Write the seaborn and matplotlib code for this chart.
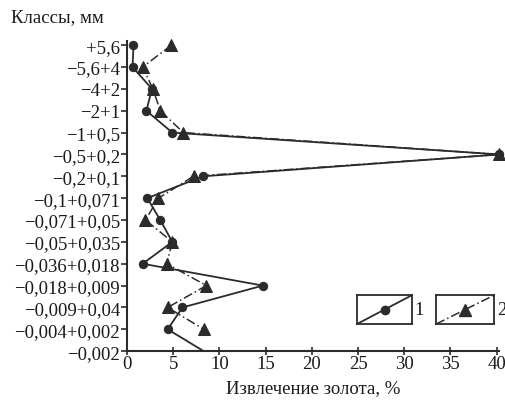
import matplotlib
matplotlib.use("Agg")
import matplotlib.pyplot as plt
import seaborn as sns
import numpy as np

# classes (top to bottom) and gold recovery values, %
classes = ["+5,6", "−5,6+4", "−4+2", "−2+1", "−1+0,5", "−0,5+0,2", "−0,2+0,1",
           "−0,1+0,071", "−0,071+0,05", "−0,05+0,035", "−0,036+0,018",
           "−0,018+0,009", "−0,009+0,04", "−0,004+0,002", "−0,002"]
series1 = [0.7, 0.6, 2.7, 2.1, 4.9, 40.3, 8.2, 2.2, 3.6, 4.9, 1.7, 14.7, 6.0, 4.4, 8.3]
series2 = [4.8, 1.7, 2.8, 3.6, 6.1, 40.3, 7.2, 3.4, 2.0, 4.9, 4.3, 8.6, 4.4, 8.3]
legend_labels = ["1", "2"]

sns.set_theme(style="ticks")
plt.rcParams["font.family"] = ["Liberation Serif", "DejaVu Serif"]

col = "#2b2b2b"
txt = "#1a1a1a"
fs = 13.5
dashdot = (0, (6, 2, 1, 2))
fig = plt.figure(figsize=(5.06, 4.02), dpi=100)
ax = fig.add_axes([0.251, 0.124, 0.736, 0.772])

pos1 = np.arange(len(series1))
pos2 = np.arange(len(series2))
sns.lineplot(x=series1, y=pos1, sort=False, orient="y", ax=ax, color=col, lw=1.3,
             marker="o", markersize=6, markevery=list(range(len(series1) - 1)),
             markeredgecolor=col, clip_on=False, zorder=3)
sns.lineplot(x=series2, y=pos2, sort=False, orient="y", ax=ax, color=col, lw=1.1,
             linestyle=dashdot, marker="^", markersize=8, markeredgecolor=col,
             clip_on=False, zorder=3)

ax.set_ylim(len(classes) - 1, -0.2)
ax.set_xlim(0, 40.3)
ax.set_yticks(range(len(classes)))
ax.set_yticklabels(classes)
ax.set_xticks(range(0, 41, 5))
ax.tick_params(axis="y", direction="out", length=4, width=1.2, labelsize=fs, pad=1,
               colors=col, labelcolor=txt)
ax.tick_params(axis="x", direction="inout", length=6, width=1.2, labelsize=fs, pad=0,
               colors=col, labelcolor=txt)
for s in ["top", "right"]:
    ax.spines[s].set_visible(False)
for s in ["left", "bottom"]:
    ax.spines[s].set_linewidth(1.5)
    ax.spines[s].set_color(col)
ax.set_ylabel("")
ax.set_xlabel("Извлечение золота, %", fontsize=fs, color=txt, labelpad=5)
fig.text(0.022, 0.957, "Классы, мм", fontsize=fs, color=txt, va="center")

# legend boxes
styles = [dict(marker="o", ls="-", ms=6, lw=1.3), dict(marker="^", ls=dashdot, ms=8, lw=1.1)]
boxes = [[0.7055, 0.1915, 0.109, 0.072], [0.862, 0.1915, 0.115, 0.072]]
for lab, st, rect in zip(legend_labels, styles, boxes):
    lax = fig.add_axes(rect)
    lax.plot([0, 1], [0, 1], color=col, ls=st["ls"], lw=st["lw"])
    lax.plot([0.5], [0.5], color=col, marker=st["marker"], ms=st["ms"])
    lax.set_xlim(0, 1)
    lax.set_ylim(0, 1)
    lax.set_xticks([])
    lax.set_yticks([])
    for sp in lax.spines.values():
        sp.set_visible(True)
        sp.set_color(col)
        sp.set_linewidth(1.3)
    fig.text(rect[0] + rect[2] + 0.005, rect[1] + rect[3] / 2, lab, fontsize=fs,
             color=txt, va="center")

fig.savefig("out.png", dpi=100)
